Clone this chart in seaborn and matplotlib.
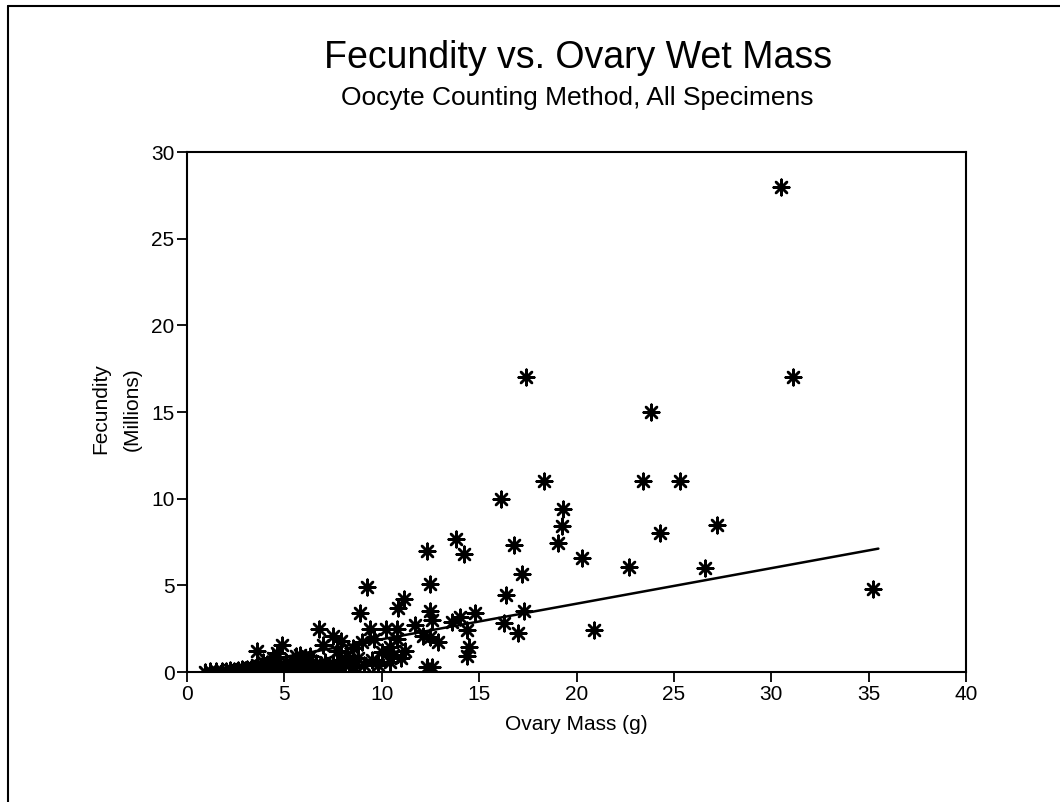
import matplotlib
matplotlib.use("Agg")
import matplotlib.pyplot as plt
from matplotlib.lines import Line2D
import seaborn as sns
import numpy as np
import pandas as pd

# ---- data ----
ovary_mass = [
    30.5, 31.1, 17.4, 23.8, 18.35, 23.4, 25.3, 16.1, 19.3, 19.25, 19.05, 20.3,
    24.3, 27.2, 22.7, 26.6, 20.9, 35.2, 13.8, 12.3, 14.2, 16.8, 9.25, 12.5,
    17.2, 16.4, 11.15, 10.85, 8.9, 12.5, 17.3, 14.8, 14.0, 13.6, 11.7, 12.6,
    9.4, 10.2, 10.8, 16.3, 14.4, 17.0, 12.1, 12.9, 9.0, 12.5, 14.5, 14.4,
    10.0, 10.6, 11.0, 9.5, 9.1, 12.3, 12.6, 6.8, 7.5, 7.9, 4.9, 7.0, 8.5,
    10.4, 3.6, 4.6, 5.8, 6.3, 7.7, 8.2, 9.8, 10.4, 11.2, 9.6, 10.8,
    0.9, 1.2, 1.5, 1.8, 2.0, 2.2, 2.4, 2.6, 2.8, 3.0, 3.1, 3.3, 3.5, 3.6,
    3.8, 4.0, 4.1, 4.3, 4.5, 4.6, 4.8, 5.0, 5.1, 5.3, 5.4, 5.6, 5.8, 5.9,
    6.1, 6.2, 6.4, 6.6, 6.7, 6.9, 7.1, 7.3, 7.5, 7.7, 7.9, 8.1, 8.3, 8.6,
    8.8, 4.4, 5.6, 3.9,
]
fecundity = [
    28.0, 17.0, 17.0, 15.0, 11.0, 11.0, 11.0, 10.0, 9.4, 8.4, 7.45, 6.6,
    8.0, 8.5, 6.05, 6.0, 2.4, 4.8, 7.7, 7.0, 6.8, 7.3, 4.9, 5.1,
    5.65, 4.45, 4.2, 3.7, 3.4, 3.5, 3.5, 3.4, 3.2, 2.9, 2.7, 3.0,
    2.5, 2.5, 2.5, 2.8, 2.4, 2.25, 2.1, 1.75, 1.75, 2.0, 1.45, 0.9,
    1.15, 1.0, 0.8, 0.7, 0.4, 0.3, 0.3, 2.5, 2.1, 1.8, 1.55, 1.55, 1.4,
    1.45, 1.2, 1.1, 1.0, 0.9, 1.2, 0.9, 0.4, 0.6, 1.2, 1.9, 1.9,
    0.02, 0.03, 0.04, 0.05, 0.06, 0.1, 0.08, 0.12, 0.15, 0.1, 0.2, 0.18, 0.25, 0.4,
    0.3, 0.2, 0.45, 0.35, 0.25, 0.5, 0.4, 0.3, 0.6, 0.2, 0.45, 0.35, 0.55, 0.2,
    0.4, 0.7, 0.3, 0.5, 0.15, 0.4, 0.6, 0.3, 0.5, 0.2, 0.7, 0.4, 0.6, 0.3,
    0.8, 0.8, 0.9, 0.6,
]
fit_slope = 0.205
fit_intercept = -0.16
fit_range = [0.9, 35.5]

x_ticks = [0, 5, 10, 15, 20, 25, 30, 35, 40]
y_ticks = [0, 5, 10, 15, 20, 25, 30]

title = "Fecundity vs. Ovary Wet Mass"
subtitle = "Oocyte Counting Method, All Specimens"
x_label = "Ovary Mass (g)"
y_label_1 = "Fecundity"
y_label_2 = "(Millions)"

# ---- plotting ----
sns.set_theme(style="ticks")
plt.rcParams["font.family"] = ["Liberation Sans", "DejaVu Sans"]
plt.rcParams["text.color"] = "black"
plt.rcParams["axes.labelcolor"] = "black"
plt.rcParams["xtick.color"] = "black"
plt.rcParams["ytick.color"] = "black"

df = pd.DataFrame({"mass": ovary_mass, "fec": fecundity})
fit_x = np.array(fit_range)
fit_df = pd.DataFrame({"mass": fit_x, "fec": fit_intercept + fit_slope * fit_x})

fig = plt.figure(figsize=(10.6, 8.02), dpi=100)
ax = fig.add_axes([187 / 1060, 1 - 672 / 802, (966 - 187) / 1060, (672 - 152) / 802])

sns.scatterplot(data=df, x="mass", y="fec", ax=ax, marker=(8, 2, 0),
                color="black", s=125, linewidth=1.8, legend=False, zorder=3)
sns.lineplot(data=fit_df, x="mass", y="fec", ax=ax, color="black",
             linewidth=1.8, zorder=2)

ax.set_xlim(0, 40)
ax.set_ylim(0, 30)
ax.set_xticks(x_ticks)
ax.set_yticks(y_ticks)
ax.set_xticklabels([str(t) for t in x_ticks], fontsize=15)
ax.set_yticklabels([str(t) for t in y_ticks], fontsize=15)
ax.tick_params(axis="both", direction="out", length=7, width=1.3, color="black",
               labelcolor="black", pad=2)
for sp in ax.spines.values():
    sp.set_visible(True)
    sp.set_color("black")
    sp.set_linewidth(1.5)

ax.set_xlabel(x_label, fontsize=15, labelpad=8, color="black")
ax.set_ylabel("")

fig.text(0.095, 0.49, y_label_1, rotation=90, ha="center", va="center",
         fontsize=15, color="black")
fig.text(0.125, 0.49, y_label_2, rotation=90, ha="center", va="center",
         fontsize=15, color="black")

fig.text(0.545, 0.928, title, ha="center", va="center", fontsize=27, color="black")
fig.text(0.545, 0.878, subtitle, ha="center", va="center", fontsize=19, color="black")

# outer frame lines (top and left)
fig.add_artist(Line2D([8 / 1060, 1.0], [1 - 6 / 802, 1 - 6 / 802],
                      transform=fig.transFigure, color="black", linewidth=1.5))
fig.add_artist(Line2D([8 / 1060, 8 / 1060], [0.0, 1 - 6 / 802],
                      transform=fig.transFigure, color="black", linewidth=1.5))

fig.savefig("out.png", dpi=100, facecolor="white")
